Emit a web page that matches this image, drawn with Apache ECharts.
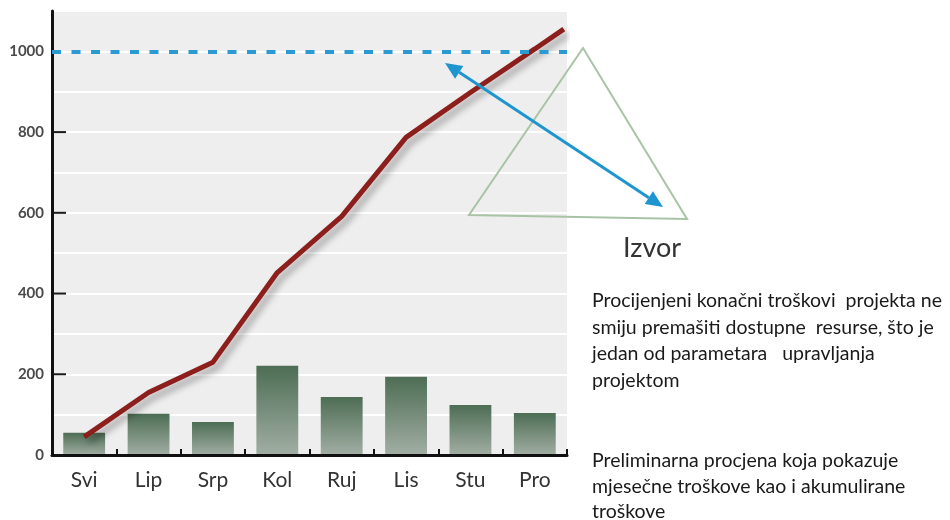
<!DOCTYPE html>
<html>
<head>
<meta charset="utf-8">
<script src="https://cdn.jsdelivr.net/npm/echarts@6/dist/echarts.min.js"></script>
<style>
html,body{margin:0;padding:0;background:#fff;}
#chart{width:950px;height:520px;}
</style>
</head>
<body>
<div id="chart"></div>
<script>
// ---- data ----
var months = ['Svi', 'Lip', 'Srp', 'Kol', 'Ruj', 'Lis', 'Stu', 'Pro'];
var monthlyCost = [55, 102, 82, 221, 144, 194, 124, 104];
var cumulativeCost = [45, 155, 230, 452, 591, 787, 898, 1006];
var cumulativeEnd = [7.95, 1055];   // line runs on to the right edge of the plot
var budgetLimit = 1000;
var yMax = 1100;
var yTickValues = [200, 400, 600, 800];
var titleText = 'Izvor';
var note1 = ['Procijenjeni konačni troškovi  projekta ne', 'smiju premašiti dostupne  resurse, što je', 'jedan od parametara   upravljanja', 'projektom'];
var note2 = ['Preliminarna procjena koja pokazuje', 'mjesečne troškove kao i akumulirane', 'troškove'];

// ---- build ----
var lineData = cumulativeCost.map(function (v, i) { return [i + 0.5, v]; });
lineData.push(cumulativeEnd);

var gTop = 11, gBottom = 65, H = 520;
var plotH = H - gTop - gBottom;
var tickGridTop = gTop + plotH * (yMax - budgetLimit) / yMax; // grid whose top is the 1000 level

function arrowHead(tip, from, len, half) {
  var dx = tip[0] - from[0], dy = tip[1] - from[1];
  var L = Math.sqrt(dx * dx + dy * dy);
  var ux = dx / L, uy = dy / L;
  var bx = tip[0] - ux * len, by = tip[1] - uy * len;
  return { pts: [tip, [bx - uy * half, by + ux * half], [bx + uy * half, by - ux * half]], base: [bx, by] };
}
var aStart = [445, 63], aEnd = [663, 207];
var h1 = arrowHead(aEnd, aStart, 17, 7.5);
var h2 = arrowHead(aStart, aEnd, 17, 7.5);
var arrowColor = '#1f95cf';

var graphics = [
  { type: 'polygon', z: 50, shape: { points: [[583, 48], [469, 215], [687, 219]] },
    style: { fill: 'none', stroke: '#a9c3a6', lineWidth: 2 } },
  { type: 'line', z: 51, shape: { x1: h2.base[0], y1: h2.base[1], x2: h1.base[0], y2: h1.base[1] },
    style: { stroke: arrowColor, lineWidth: 3 } },
  { type: 'polygon', z: 51, shape: { points: h1.pts }, style: { fill: arrowColor } },
  { type: 'polygon', z: 51, shape: { points: h2.pts }, style: { fill: arrowColor } },
  { type: 'text', z: 52, left: 623, top: 235,
    style: { text: titleText, font: '27px Lato', fill: '#333' } }
];
note1.forEach(function (t, i) {
  graphics.push({ type: 'text', z: 52, left: 592, top: 291 + i * 26.5,
    style: { text: t, font: '19.5px Lato', fill: '#1a1a1a' } });
});
note2.forEach(function (t, i) {
  graphics.push({ type: 'text', z: 52, left: 592, top: 451 + i * 25.5,
    style: { text: t, font: '19.5px Lato', fill: '#1a1a1a' } });
});

var chart = echarts.init(document.getElementById('chart'), null, { renderer: 'canvas' });
chart.setOption({
  animation: false,
  backgroundColor: '#ffffff',
  grid: [
    { left: 52, right: 383, top: gTop, bottom: gBottom, show: true, backgroundColor: '#eeeeee', borderWidth: 0 },
    { left: 52, right: 383, top: tickGridTop, bottom: gBottom, show: false }
  ],
  xAxis: [
    {
      type: 'category', data: months, gridIndex: 0, z: 5,
      axisLine: { show: true, lineStyle: { color: '#111', width: 3 } },
      axisTick: { show: true, inside: true, length: 6, lineStyle: { color: '#111', width: 2 } },
      axisLabel: { margin: 15, fontFamily: 'Lato', fontSize: 21, color: '#333' },
      splitLine: { show: false }
    },
    { type: 'value', gridIndex: 0, min: 0, max: 8, show: false },
    { type: 'category', gridIndex: 1, data: months, show: false }
  ],
  yAxis: [
    {
      type: 'value', gridIndex: 0, min: 0, max: yMax, interval: 100, z: 0,
      axisLine: { show: true, lineStyle: { color: '#111', width: 3 } },
      axisTick: { show: false }, axisLabel: { show: false },
      splitLine: { show: true, lineStyle: { color: '#ffffff', width: 2 } }
    },
    {
      type: 'value', gridIndex: 1, min: 0, max: budgetLimit, interval: 200, show: true,
      axisLine: { show: false },
      axisTick: { show: false },
      axisLabel: { show: true, margin: 8, fontFamily: 'Lato', fontWeight: 'bold', fontSize: 15, color: '#4a4a4a',
        formatter: function (v) { return String(v); } },
      splitLine: { show: false }
    }
  ],
  series: [
    {
      type: 'bar', data: monthlyCost, barWidth: '65%', z: 2,
      itemStyle: {
        color: new echarts.graphic.LinearGradient(0, 0, 0, 1, [
          { offset: 0, color: '#4d6d54' },
          { offset: 1, color: '#a2aea4' }
        ])
      }
    },
    {
      type: 'line', xAxisIndex: 1, data: lineData, symbol: 'none', z: 3,
      lineStyle: { color: '#8c1f1c', width: 5, shadowColor: 'rgba(0,0,0,0.35)', shadowBlur: 7, shadowOffsetX: 4, shadowOffsetY: 5 }
    },
    {
      type: 'line', data: [], z: 4,
      markLine: {
        silent: true, symbol: 'none', label: { show: false },
        lineStyle: { color: '#2a9ad2', width: 4, type: [9, 10.5], cap: 'butt' },
        data: [{ yAxis: budgetLimit }]
      }
    }
  ],
  graphic: graphics
});

// inward tick marks on the value axis, positioned through the chart's own y scale
var tickGraphics = yTickValues.map(function (v) {
  var p = chart.convertToPixel({ xAxisIndex: 1, yAxisIndex: 0 }, [0, v]);
  return { type: 'line', z: 100, silent: true,
    shape: { x1: p[0] + 1, y1: p[1], x2: p[0] + 14, y2: p[1] },
    style: { stroke: '#1a1a1a', lineWidth: 2 } };
});
chart.setOption({ graphic: graphics.concat(tickGraphics) });
</script>
</body>
</html>
